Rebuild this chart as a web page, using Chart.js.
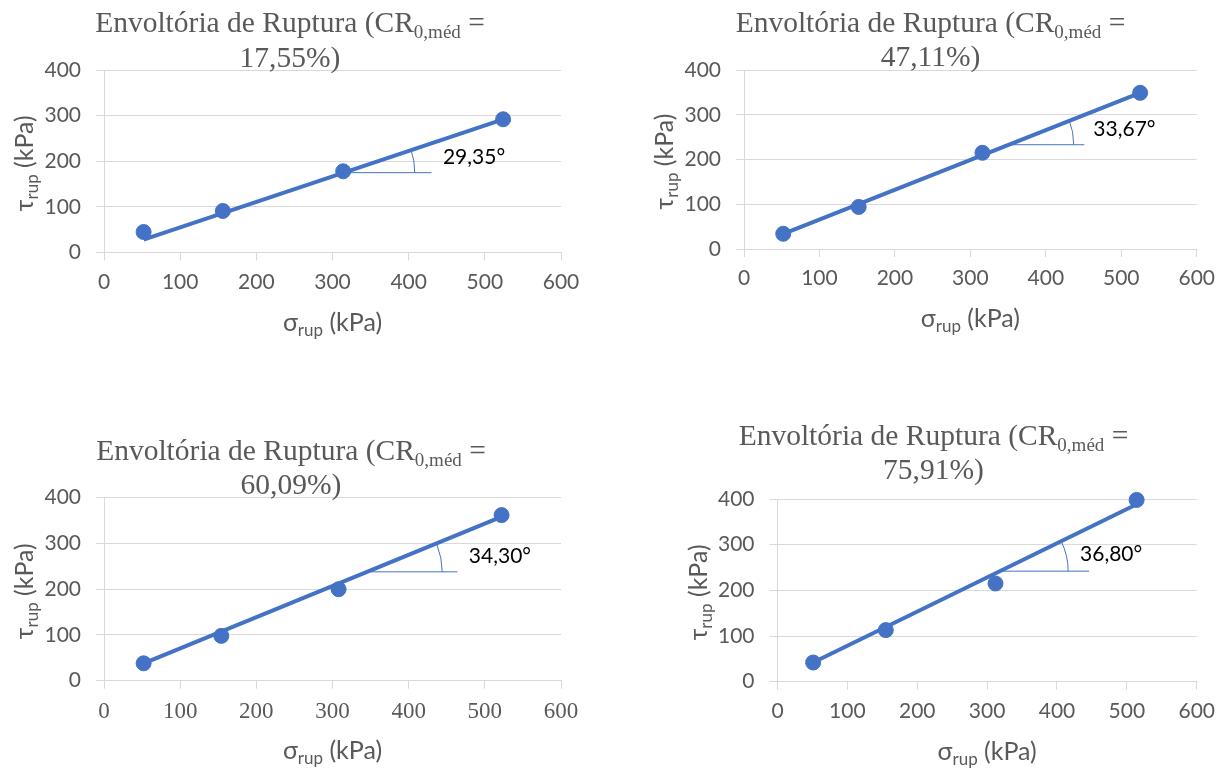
<!DOCTYPE html>
<html>
<head>
<meta charset="utf-8">
<script src="https://cdn.jsdelivr.net/npm/chart.js@4.4.1/dist/chart.umd.min.js"></script>
<style>
html,body{margin:0;padding:0;background:#ffffff;overflow:hidden;}
#wrap{position:relative;width:1224px;height:769px;}
canvas{position:absolute;}
</style>
</head>
<body>
<div id="wrap">
<canvas id="c0" width="612" height="384" style="left:0;top:0"></canvas>
<canvas id="c1" width="612" height="384" style="left:612px;top:0"></canvas>
<canvas id="c2" width="612" height="385" style="left:0;top:384px"></canvas>
<canvas id="c3" width="612" height="385" style="left:612px;top:384px"></canvas>
</div>
<script>
// ---------- DATA ----------
const crValues = ['17,55%', '47,11%', '60,09%', '75,91%'];
const angleLabels = ['29,35°', '33,67°', '34,30°', '36,80°'];

const sigma1 = [52, 156, 314, 524];
const tau1   = [45, 91, 178, 292];
const sigma2 = [52, 152, 316, 525];
const tau2   = [34, 94, 215, 349];
const sigma3 = [52, 154, 308, 522];
const tau3   = [38, 98, 200, 362];
const sigma4 = [51, 155, 312, 514];
const tau4   = [42, 113, 215, 398];

// trend line end points (sigma, tau)
const trendSigma1 = [52, 524], trendTau1 = [28, 292];
const trendSigma2 = [52, 525], trendTau2 = [34, 349];
const trendSigma3 = [52, 520], trendTau3 = [38, 357];
const trendSigma4 = [51, 512], trendTau4 = [42, 387];

// angle marker: horizontal reference line [sigma start, sigma end, tau], arc end sigma, label position [sigma, tau]
const refLine1 = [314, 430, 175], arcEnd1 = 408, labelPos1 = [445, 209];
const refLine2 = [345, 451, 233], arcEnd2 = 437, labelPos2 = [463, 268];
const refLine3 = [350, 464, 238], arcEnd3 = 444, labelPos3 = [479, 272];
const refLine4 = [319, 446, 242], arcEnd4 = 416, labelPos4 = [433, 279];

const xTickMin = 0, xTickMax = 600, xTickStep = 100;
const yTickMin = 0, yTickMax = 400, yTickStep = 100, yMinorStep = 50;

// ---------- LAYOUT ----------
const layouts = [
  {area:{l:104, r:561, t:70, b:252.5},  title:{x:290, y1:32, y2:67}, serifX:false},
  {area:{l:132, r:591, t:70, b:249},    title:{x:318.5, y1:32, y2:66}, serifX:false},
  {area:{l:104, r:561, t:113.7, b:296.7}, title:{x:291, y1:76, y2:110}, serifX:true},
  {area:{l:165.5, r:593, t:115, b:297.7}, title:{x:321.5, y1:61, y2:95}, serifX:false}
];

const sets = [
  {s:sigma1, t:tau1, ts:trendSigma1, tt:trendTau1, ref:refLine1, arc:arcEnd1, lab:labelPos1},
  {s:sigma2, t:tau2, ts:trendSigma2, tt:trendTau2, ref:refLine2, arc:arcEnd2, lab:labelPos2},
  {s:sigma3, t:tau3, ts:trendSigma3, tt:trendTau3, ref:refLine3, arc:arcEnd3, lab:labelPos3},
  {s:sigma4, t:tau4, ts:trendSigma4, tt:trendTau4, ref:refLine4, arc:arcEnd4, lab:labelPos4}
];

const BLUE = '#4472C4';
const GREY_TXT = '#595959';
const SANS = 'Lato, sans-serif';
const SERIF = '"Liberation Serif", serif';

function drawRich(ctx, segs, cx, y, f) {
  let w = 0;
  for (const s of segs) { ctx.font = s.sub ? f.sub : f.main; w += ctx.measureText(s.t).width; }
  let x = cx - w / 2;
  ctx.textAlign = 'left';
  ctx.textBaseline = 'alphabetic';
  ctx.fillStyle = f.color;
  for (const s of segs) {
    ctx.font = s.sub ? f.sub : f.main;
    ctx.fillText(s.t, x, y + (s.sub ? f.off : 0));
    x += ctx.measureText(s.t).width;
  }
}

const decorPlugin = {
  id: 'decor',
  afterDraw(chart, args, opts) {
    const ctx = chart.ctx;
    const xs = chart.scales.x, ys = chart.scales.y;
    const a = chart.chartArea;
    const d = opts.set, lay = opts.lay, i = opts.idx;
    ctx.save();
    // angle annotation
    const cx = xs.getPixelForValue(d.ref[0]);
    const cy = ys.getPixelForValue(d.ref[2]);
    ctx.strokeStyle = BLUE;
    ctx.lineWidth = 1;
    ctx.beginPath();
    ctx.moveTo(cx, cy);
    ctx.lineTo(xs.getPixelForValue(d.ref[1]), cy);
    ctx.stroke();
    const ang = Math.atan2(ys.getPixelForValue(d.tt[1]) - ys.getPixelForValue(d.tt[0]),
                           xs.getPixelForValue(d.ts[1]) - xs.getPixelForValue(d.ts[0]));
    const r = xs.getPixelForValue(d.arc) - cx;
    ctx.beginPath();
    ctx.arc(cx, cy, r, ang, 0);
    ctx.stroke();
    ctx.fillStyle = '#000000';
    ctx.font = '21px ' + SANS;
    ctx.textAlign = 'left';
    ctx.textBaseline = 'middle';
    ctx.fillText(angleLabels[i], xs.getPixelForValue(d.lab[0]), ys.getPixelForValue(d.lab[1]));

    // title
    const tf = {main: '29.5px ' + SERIF, sub: '19px ' + SERIF, off: 6, color: GREY_TXT};
    drawRich(ctx, [{t:'Envoltória de Ruptura (CR'}, {t:'0,méd', sub:true}, {t:' ='}], lay.title.x, lay.title.y1, tf);
    drawRich(ctx, [{t: crValues[i] + ')'}], lay.title.x, lay.title.y2, tf);

    // axis titles
    const af = {main: '25px ' + SANS, sub: '17px ' + SANS, off: 5, color: GREY_TXT};
    drawRich(ctx, [{t:'σ'}, {t:'rup', sub:true}, {t:' (kPa)'}], (a.left + a.right) / 2, a.bottom + 78, af);
    ctx.translate(a.left - 79, (a.top + a.bottom) / 2 + 2);
    ctx.rotate(-Math.PI / 2);
    drawRich(ctx, [{t:'τ'}, {t:'rup', sub:true}, {t:' (kPa)'}], 0, 8, af);
    ctx.restore();
  }
};

layouts.forEach((lay, i) => {
  const d = sets[i];
  const cv = document.getElementById('c' + i);
  const W = cv.width, H = cv.height;
  const XH = 50;
  const pts = d.s.map((v, k) => ({x: v, y: d.t[k]}));
  const trend = d.ts.map((v, k) => ({x: v, y: d.tt[k]}));
  new Chart(cv, {
    type: 'scatter',
    data: {
      datasets: [
        {type:'line', data: trend, borderColor: BLUE, borderWidth: 4, pointRadius: 0, fill: false, order: 2, clip: false},
        {type:'scatter', data: pts, backgroundColor: BLUE, borderColor: BLUE, pointRadius: 7.5, pointHoverRadius: 7.5, order: 1, clip: false}
      ]
    },
    options: {
      responsive: false,
      animation: false,
      events: [],
      layout: {padding: {left: 0, top: lay.area.t, right: W - lay.area.r, bottom: H - lay.area.b - XH}},
      plugins: {legend: {display: false}, tooltip: {enabled: false}, title: {display: false},
                decor: {set: d, lay: lay, idx: i}},
      scales: {
        x: {
          type: 'linear', min: xTickMin, max: xTickMax,
          afterFit: s => { s.height = XH; },
          ticks: {stepSize: xTickStep, color: GREY_TXT, padding: 9,
                  font: lay.serifX ? {family: SERIF, size: 23} : {family: SANS, size: 21}},
          grid: {drawOnChartArea: false, drawTicks: true, tickLength: 8, color: '#d9d9d9', tickColor: '#d9d9d9'},
          border: {display: true, color: '#d9d9d9'}
        },
        y: {
          type: 'linear', min: yTickMin, max: yTickMax,
          afterFit: s => { s.width = lay.area.l; },
          ticks: {stepSize: yMinorStep, color: GREY_TXT, padding: 15, font: {family: SANS, size: 21},
                  callback: v => (v % yTickStep === 0 ? String(v) : '')},
          grid: {
            tickLength: 8,
            color: c => (c.tick && c.tick.value % yTickStep === 0 ? '#d9d9d9' : '#f2f2f2'),
            tickColor: c => (c.tick && c.tick.value % yTickStep === 0 ? '#d9d9d9' : 'rgba(0,0,0,0)')
          },
          border: {display: true, color: '#d9d9d9'}
        }
      }
    },
    plugins: [decorPlugin]
  });
});
</script>
</body>
</html>
